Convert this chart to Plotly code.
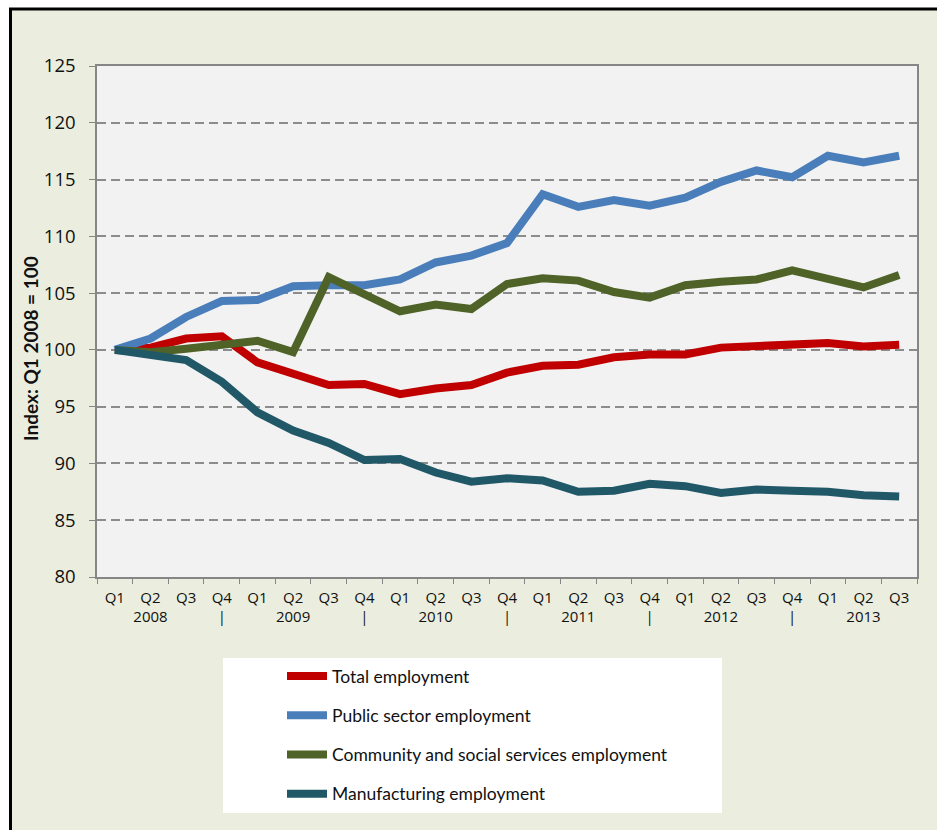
import plotly.graph_objects as go

# ---- data ----
quarter_labels = ["Q1", "Q2", "Q3", "Q4"] * 5 + ["Q1", "Q2", "Q3"]
year_labels = ["", "2008", "", "|", "", "2009", "", "|", "", "2010", "", "|",
               "", "2011", "", "|", "", "2012", "", "|", "", "2013", ""]
categories = [f"{q}-{i}" for i, q in enumerate(quarter_labels)]

total_employment = [100.0, 100.2, 101.0, 101.2, 98.9, 97.9, 96.9, 97.0, 96.1, 96.6, 96.9, 98.0,
                    98.6, 98.7, 99.35, 99.6, 99.6, 100.2, 100.35, 100.5, 100.6, 100.3, 100.45]
public_sector = [100.0, 101.0, 102.9, 104.3, 104.4, 105.6, 105.7, 105.7, 106.2, 107.7, 108.3, 109.4,
                 113.7, 112.6, 113.2, 112.7, 113.4, 114.8, 115.8, 115.2, 117.1, 116.5, 117.1]
community_social = [100.0, 99.8, 100.1, 100.5, 100.8, 99.8, 106.4, 104.9, 103.4, 104.0, 103.6, 105.8,
                    106.3, 106.1, 105.1, 104.6, 105.7, 106.0, 106.2, 107.0, 106.2, 105.5, 106.6]
manufacturing = [100.0, 99.6, 99.1, 97.2, 94.5, 92.9, 91.8, 90.3, 90.4, 89.2, 88.4, 88.7,
                 88.5, 87.5, 87.6, 88.2, 88.0, 87.4, 87.7, 87.6, 87.5, 87.2, 87.1]

series_names = ["Total employment", "Public sector employment",
                "Community and social services employment", "Manufacturing employment"]
series_values = [total_employment, public_sector, community_social, manufacturing]
series_colors = ["#C00000", "#4A7EBB", "#4F6228", "#215868"]

y_ticks = [80, 85, 90, 95, 100, 105, 110, 115, 120, 125]
y_title = "Index: Q1 2008 = 100"

# ---- layout geometry (page pixels) ----
W, H = 937, 830
L, R, T, B = 97, 917, 66, 577
pw, ph = R - L, B - T

def px(x):  # page x -> paper
    return (x - L) / pw

def py(y):  # page y -> paper
    return (B - y) / ph

FONT = "Lato, 'Open Sans', sans-serif"
NUMFONT = "'Open Sans', Lato, sans-serif"
FRAME_BG = "#EBEEDE"

fig = go.Figure()
for name, vals, col in zip(series_names, series_values, series_colors):
    fig.add_trace(go.Scatter(
        x=categories, y=vals, name=name, mode="lines",
        line=dict(color=col, width=8), legendgroup=name,
    ))

ticktext = [f"{q}<br>{y}" if y else q for q, y in zip(quarter_labels, year_labels)]

shapes = [
    # white outside the frame (top strip and left strip)
    dict(type="rect", xref="paper", yref="paper", x0=px(-20), x1=px(960), y0=py(8), y1=py(-20),
         fillcolor="white", line=dict(width=0), layer="below"),
    dict(type="rect", xref="paper", yref="paper", x0=px(-20), x1=px(10), y0=py(850), y1=py(-20),
         fillcolor="white", line=dict(width=0), layer="below"),
    # black frame lines (top and left)
    dict(type="line", xref="paper", yref="paper", x0=px(9), x1=px(960), y0=py(9), y1=py(9),
         line=dict(color="black", width=3)),
    dict(type="line", xref="paper", yref="paper", x0=px(10.5), x1=px(10.5), y0=py(8), y1=py(850),
         line=dict(color="black", width=3)),
    # legend white box
    dict(type="rect", xref="paper", yref="paper", x0=px(223), x1=px(722), y0=py(813), y1=py(658),
         fillcolor="white", line=dict(width=0), layer="below"),
]

fig.update_layout(
    width=W, height=H,
    margin=dict(l=L, r=W - R, t=T, b=H - B, pad=0),
    paper_bgcolor=FRAME_BG,
    plot_bgcolor="#F2F2F2",
    font=dict(family=FONT, color="#111111"),
    showlegend=True,
    legend=dict(
        x=px(282), y=py(658), xanchor="left", yanchor="top",
        bgcolor="rgba(0,0,0,0)", font=dict(size=17.5, family=FONT, color="#111111"),
        traceorder="grouped", tracegroupgap=13.5, itemwidth=40,
    ),
    shapes=shapes,
    annotations=[dict(
        text=f"<b>{y_title}</b>", textangle=-90, xref="paper", yref="paper",
        x=px(30), y=py(349), xanchor="center", yanchor="middle", showarrow=False,
        font=dict(size=19, family=FONT, color="#111111"),
    )],
    xaxis=dict(
        type="category", tickmode="array", tickvals=categories, ticktext=ticktext,
        range=[-0.5, len(categories) - 0.5],
        tickson="boundaries", ticks="outside", ticklen=5, tickcolor="#868686",
        showline=True, linecolor="#868686", linewidth=1.5, mirror=True,
        showgrid=False, tickfont=dict(size=15, family=NUMFONT), tickangle=0,
        ticklabelstandoff=6,
    ),
    yaxis=dict(
        range=[80, 125], tickvals=y_ticks, ticks="outside", ticklen=6, tickcolor="#868686",
        showline=True, linecolor="#868686", linewidth=1.5, mirror=True,
        showgrid=True, gridcolor="#8C8C8C", gridwidth=1.5, griddash="9px,5px",
        zeroline=False, tickfont=dict(size=18.5, family=NUMFONT), ticklabelstandoff=10,
    ),
)

fig.write_html(
    "out.html",
    config={"displayModeBar": False},
    post_script="document.body.style.margin='0';document.body.style.overflow='hidden';",
)
